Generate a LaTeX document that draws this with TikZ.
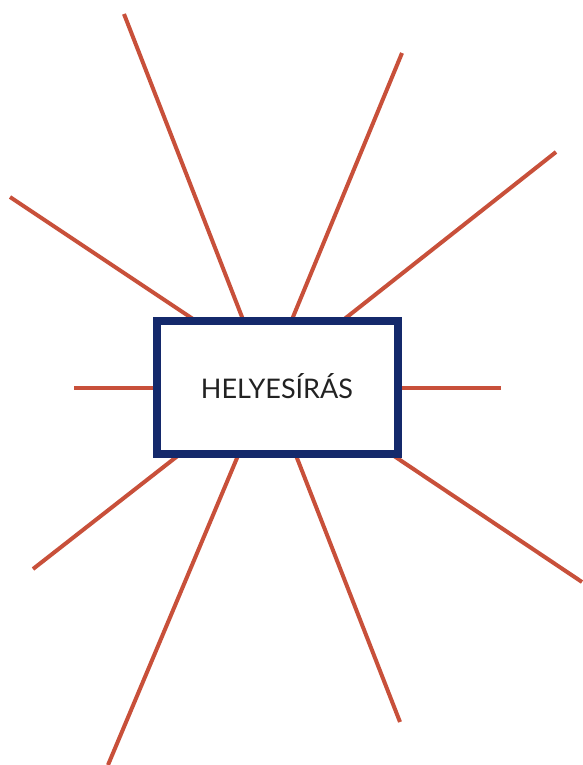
\documentclass[tikz,border=0pt]{standalone}
\usepackage{fontspec}
\setmainfont{Lato}
\usetikzlibrary{calc}
\definecolor{rayred}{HTML}{C8503A}
\definecolor{boxnavy}{HTML}{14296B}
\definecolor{txtdark}{HTML}{222222}
\begin{document}
\begin{tikzpicture}[x=1pt,y=-1pt,
  ray/.style={draw=rayred,line width=4pt},
  mainbox/.style={draw=boxnavy,line width=8pt,fill=white,minimum width=241pt,minimum height=133pt,inner sep=0pt},
  title/.style={font=\fontsize{27}{30}\selectfont,text=txtdark,anchor=base,inner sep=0pt}]
\useasboundingbox (0,0) rectangle (582,765);
% outer ends
\coordinate (o1) at (124,14);
\coordinate (o2) at (402,53);
\coordinate (o3) at (10,197);
\coordinate (o4) at (556,152);
\coordinate (o5) at (74,388);
\coordinate (o6) at (501,388);
\coordinate (o7) at (33,569);
\coordinate (o8) at (582,582);
\coordinate (o9) at (108,765);
\coordinate (o10) at (400,722);
% box edge crossings
\coordinate (e1) at (242,317);
\coordinate (e2) at (293,317);
\coordinate (e3) at (190,317);
\coordinate (e4) at (347,317);
\coordinate (e5) at (157,388);
\coordinate (e6) at (398,388);
\coordinate (e7) at (175,458);
\coordinate (e8) at (397,458);
\coordinate (e9) at (237,458);
\coordinate (e10) at (297,458);
\foreach \i in {1,...,10}{
  \draw[ray] (o\i) -- ($(o\i)!1.15!(e\i)$);
}
\node[mainbox] (box) at (277.5,387.5) {};
\node[title] (t) at (277,398) {HELYESÍRÁS};
\end{tikzpicture}
\end{document}
